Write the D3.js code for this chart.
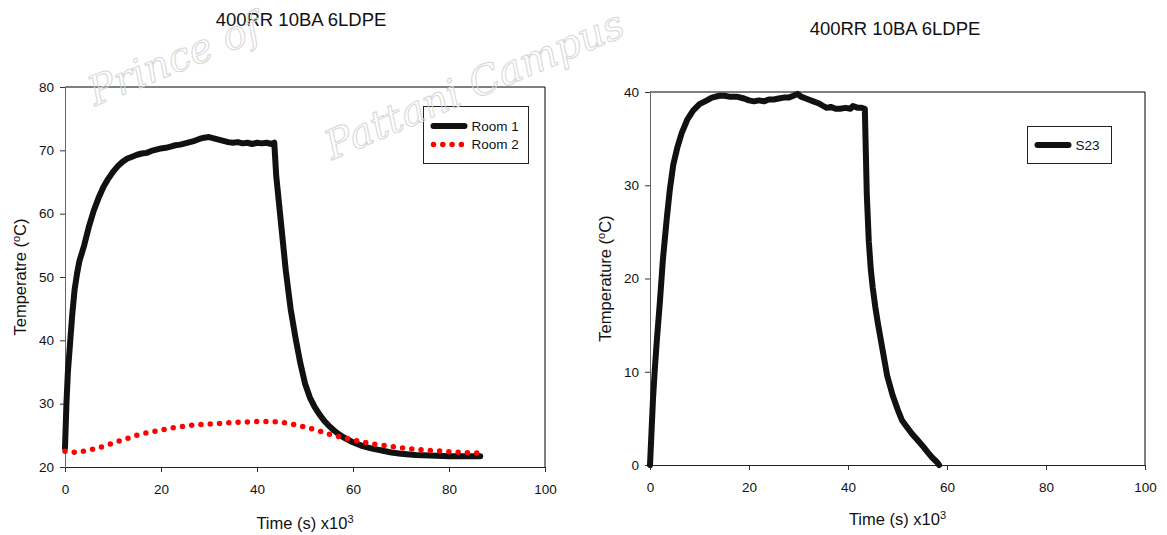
<!DOCTYPE html>
<html>
<head>
<meta charset="utf-8">
<script src="https://cdn.jsdelivr.net/npm/d3@7"></script>
<style>
body { margin: 0; background: #fff; }
svg { display: block; font-family: "Liberation Sans", Arial, sans-serif; }
</style>
</head>
<body>
<svg id="chart" width="1167" height="535"></svg>
<script>
"use strict";

// time in seconds x10^3, temperatures in degC
var room1Time = [0, 0.3, 0.6, 1, 1.5, 2, 2.5, 3, 4, 5, 6, 7, 8, 9, 10, 11, 12, 13, 14, 15,
    16, 17, 18, 19, 20, 21, 22, 23, 24, 25, 26, 27, 28, 29, 30, 31, 32, 33, 34, 35,
    36, 37, 38, 39, 40, 41, 42, 43, 43.6, 44, 45, 46, 47, 48, 49, 50, 51, 52, 53, 54,
    55, 56, 57, 58, 59, 60, 62, 64, 66, 68, 70, 73, 76, 80, 83, 86.5];
var room1Temp = [23, 30, 35, 39, 44, 48, 50.5, 52.5, 55, 58, 60.5, 62.5, 64.2, 65.5, 66.6, 67.5, 68.2, 68.7, 69.0, 69.3,
    69.5, 69.6, 69.9, 70.1, 70.3, 70.4, 70.6, 70.8, 70.9, 71.1, 71.3, 71.5, 71.8, 72.0, 72.1, 71.9, 71.7, 71.5, 71.3, 71.2,
    71.3, 71.1, 71.2, 71.0, 71.2, 71.1, 71.2, 71.0, 71.2, 66, 58.5, 51, 45, 40.5, 36.5, 33.2, 31, 29.5, 28.3, 27.3,
    26.5, 25.8, 25.2, 24.7, 24.3, 23.9, 23.3, 22.9, 22.6, 22.3, 22.1, 21.9, 21.8, 21.7, 21.7, 21.7];

var room2Time = [0, 2.5, 4.5, 6.5, 8.5, 10.5, 12.5, 14.5, 16.5, 18.5, 20.5, 22.5, 24.5, 26.5, 28.5,
    30.5, 32.5, 34.5, 36.5, 38.5, 40.5, 42.5, 44.5, 46.5, 48.5, 50.5, 52.5, 54.5, 56.5, 58.5,
    60.5, 62.5, 64.5, 66.5, 68.5, 70.5, 72.5, 74.5, 76.5, 78.5, 80.5, 82.5, 84.5, 86.5];
var room2Temp = [22.5, 22.3, 22.6, 22.9, 23.4, 23.9, 24.4, 24.9, 25.3, 25.6, 25.9, 26.2, 26.4, 26.6, 26.7,
    26.8, 26.9, 27.0, 27.1, 27.1, 27.2, 27.2, 27.1, 26.9, 26.6, 26.2, 25.8, 25.3, 24.9, 24.5,
    24.2, 23.9, 23.6, 23.4, 23.2, 23.0, 22.8, 22.7, 22.6, 22.5, 22.4, 22.3, 22.2, 22.2];

var s23Time = [0, 0.3, 0.6, 1, 1.4, 2, 2.6, 3.4, 4, 4.7, 5.5, 6.4, 7.5, 8.7, 10, 11.5, 12.5, 14, 15, 16,
    17.5, 19, 20, 21, 22, 23, 24, 25, 26, 27, 28, 29, 29.8, 30.5, 31.5, 33, 34, 35, 35.7, 36.5,
    37.5, 38.4, 39.5, 40.5, 41, 42, 42.8, 43.4, 43.8, 44.2, 44.6, 45, 45.5, 46, 46.5, 47, 47.9, 49, 50, 50.9,
    52, 53, 54, 55, 56.2, 57, 58, 58.4];
var s23Temp = [0, 3.5, 7, 10.5, 13.5, 17.5, 22, 26.5, 29.5, 32.2, 34, 35.6, 37, 38, 38.7, 39.1, 39.4, 39.6, 39.6, 39.5,
    39.5, 39.3, 39.1, 39.0, 39.1, 39.0, 39.2, 39.2, 39.3, 39.4, 39.4, 39.6, 39.8, 39.5, 39.3, 39.0, 38.8, 38.5, 38.3, 38.4,
    38.2, 38.2, 38.3, 38.2, 38.5, 38.3, 38.3, 38.2, 29, 24, 21, 19, 17, 15.3, 13.8, 12.3, 9.6, 7.5, 6, 4.8,
    4, 3.3, 2.7, 2.1, 1.3, 0.8, 0.3, 0];

var xTicks = [0, 20, 40, 60, 80, 100];
var leftYTicks = [20, 30, 40, 50, 60, 70, 80];
var rightYTicks = [0, 10, 20, 30, 40];
var chartTitles = ["400RR 10BA 6LDPE", "400RR 10BA 6LDPE"];
var yTitles = ["Temperatre (", "Temperature ("];
var legendLeft = ["Room 1", "Room 2"];
var legendRight = ["S23"];
var watermark = ["Prince of", "Pattani Campus"];

var svg = d3.select("#chart");

// faint outlined watermark, laid over the charts
function drawWatermark() {
    var wm = svg.append("g")
        .attr("fill", "none")
        .attr("stroke", "#d6d6d6")
        .attr("stroke-width", 1)
        .style("font-family", "'DejaVu Serif', serif")
        .style("font-style", "italic")
        .style("font-size", "40px");
    wm.append("text").attr("transform", "translate(95,106) rotate(-22)").text(watermark[0]);
    wm.append("text").attr("transform", "translate(332,160) rotate(-23)").text(watermark[1]);
}

function supText(sel, before, sup, after) {
    sel.append("tspan").text(before);
    sel.append("tspan").attr("baseline-shift", "super").style("font-size", "11px").text(sup);
    if(after) {
        sel.append("tspan").text(after); }
}

function drawPanel(p) {
    var x = d3.scaleLinear().domain([0, 100]).range([p.left, p.right]),
        y = d3.scaleLinear().domain(p.yDomain).range([p.bottom, p.top]),
        g = svg.append("g"),
        line = d3.line().x(function (d) { return x(d[0]); })
                        .y(function (d) { return y(d[1]); }),
        lg, ya, xa, t;

    // top and right border of plot box
    g.append("path")
        .attr("d", "M" + p.left + "," + p.top + "H" + p.right + "V" + p.bottom)
        .attr("fill", "none").attr("stroke", "#000").attr("stroke-width", 1);

    xa = g.append("g")
        .attr("transform", "translate(0," + p.bottom + ")")
        .call(d3.axisBottom(x).tickValues(xTicks).tickSize(5).tickSizeOuter(0).tickPadding(12));
    ya = g.append("g")
        .attr("transform", "translate(" + p.left + ",0)")
        .call(d3.axisLeft(y).tickValues(p.yTicks).tickSize(5).tickSizeOuter(0).tickPadding(6));
    [xa, ya].forEach(function (a) {
        a.selectAll("text").style("font-size", "13.5px").attr("fill", "#111");
        a.selectAll("line").attr("stroke", "#333"); });
    xa.select(".domain").attr("stroke", "#222");
    ya.select(".domain").attr("stroke", "#666");

    p.series.forEach(function (s) {
        g.append("path")
            .datum(d3.zip(s.t, s.v))
            .attr("d", line)
            .attr("fill", "none")
            .attr("stroke", s.color)
            .attr("stroke-width", s.width)
            .attr("stroke-linecap", "round")
            .attr("stroke-linejoin", "round")
            .attr("stroke-dasharray", s.dash || null);
    });

    // titles
    g.append("text").attr("x", p.titleX).attr("y", p.titleY)
        .attr("text-anchor", "middle").style("font-size", "18.5px").attr("fill", "#111")
        .text(p.title);
    t = g.append("text").attr("x", (p.left + p.right) / 2).attr("y", p.xTitleY)
        .attr("text-anchor", "middle").style("font-size", "16.5px").attr("fill", "#111");
    supText(t, "Time (s) x10", "3");
    t = g.append("text")
        .attr("transform", "translate(" + p.yTitleX + "," + (p.top + p.bottom) / 2 + ") rotate(-90)")
        .attr("text-anchor", "middle").style("font-size", "16.5px").attr("fill", "#111");
    supText(t, p.yTitle, "o", "C)");

    // legend box
    lg = g.append("g");
    lg.append("rect")
        .attr("x", p.legend.x).attr("y", p.legend.y)
        .attr("width", p.legend.w).attr("height", p.legend.h)
        .attr("fill", "#fff").attr("stroke", "#222");
    p.series.forEach(function (s, i) {
        var ly = p.legend.y + p.legend.first + i * 18.5;
        lg.append("path")
            .attr("d", "M" + (p.legend.x + 10) + "," + ly + "H" + (p.legend.x + 41))
            .attr("stroke", s.color).attr("stroke-width", s.width)
            .attr("stroke-linecap", "round")
            .attr("stroke-dasharray", s.dash || null);
        lg.append("text")
            .attr("x", p.legend.x + 48).attr("y", ly).attr("dy", "0.35em")
            .style("font-size", "13.5px").attr("fill", "#111")
            .text(s.name);
    });
}

drawPanel({
    left: 65, right: 545, top: 87, bottom: 467,
    yDomain: [20, 80], yTicks: leftYTicks,
    title: chartTitles[0], titleX: 301, titleY: 26,
    xTitleY: 529, yTitle: yTitles[0], yTitleX: 26,
    legend: {x: 423.5, y: 106.5, w: 105, h: 57, first: 19.5},
    series: [
        {name: legendLeft[0], t: room1Time, v: room1Temp, color: "#111", width: 6},
        {name: legendLeft[1], t: room2Time, v: room2Temp, color: "#f00", width: 5.5, dash: "0 9.3"}
    ]
});

drawPanel({
    left: 650, right: 1145, top: 92, bottom: 465,
    yDomain: [0, 40], yTicks: rightYTicks,
    title: chartTitles[1], titleX: 895, titleY: 35,
    xTitleY: 525, yTitle: yTitles[1], yTitleX: 611,
    legend: {x: 1027.5, y: 126.5, w: 84, h: 37, first: 18.5},
    series: [
        {name: legendRight[0], t: s23Time, v: s23Temp, color: "#111", width: 6}
    ]
});

drawWatermark();
</script>
</body>
</html>
